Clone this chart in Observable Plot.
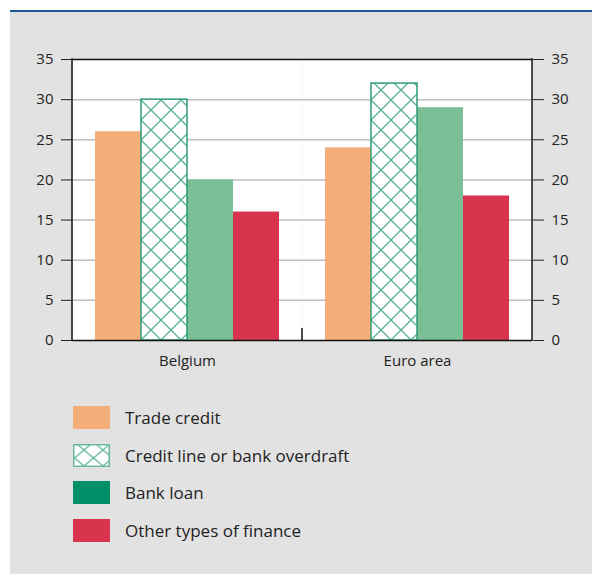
<!DOCTYPE html>
<html><head><meta charset="utf-8">
<script src="https://cdn.jsdelivr.net/npm/d3@7"></script>
<script src="https://cdn.jsdelivr.net/npm/@observablehq/plot@0.6"></script>
<style>
body{margin:0;background:#fff;font-family:"Open Sans",sans-serif;}
#wrap{position:relative;width:592px;height:574px;overflow:hidden;}
#rule{position:absolute;left:10px;top:10px;width:582px;height:2px;background:#1c5a99;}
#panel{position:absolute;left:10px;top:12px;width:582px;height:562px;background:#e2e2e2;}
#chart{position:absolute;left:0;top:0;}
#legend{position:absolute;left:73px;top:406px;}
.item{display:flex;align-items:center;height:23px;margin-bottom:14.7px;}
.item svg{display:block;flex:none;}
.item span{margin-left:15px;font-size:17px;color:#222;white-space:nowrap;}
</style>
</head><body>
<div id="wrap"><div id="panel"></div><div id="rule"></div><div id="chart"></div><div id="legend"></div></div>
<script>
const countries = ["Belgium", "Euro area"];
const types = ["Trade credit", "Credit line or bank overdraft", "Bank loan", "Other types of finance"];
const belgiumValues = [26, 30, 20, 16];
const euroAreaValues = [24, 32, 29, 18];
const yTicks = [0, 5, 10, 15, 20, 25, 30, 35];
const barColors = ["#f5ad7a", "#ffffff", "#7bbf97", "#d8344d"];
const legendColors = ["#f5ad7a", "url(#lhatch)", "#008f68", "#d8344d"];
const hatchType = types[1];
const hatchColor = "#2e9c78";

const data = [];
[belgiumValues, euroAreaValues].forEach((vals, i) => vals.forEach((v, j) => data.push({country: countries[i], type: types[j], value: v})));

const chart = Plot.plot({
  width: 592, height: 380,
  marginLeft: 72, marginRight: 60, marginTop: 59, marginBottom: 40,
  style: {fontFamily: "Open Sans", fontSize: "15px", color: "#222", background: "transparent"},
  facet: {data, x: "country"},
  fx: {domain: countries, padding: 0, label: null, tickSize: 0, tickPadding: 15},
  x: {domain: types, paddingInner: 0, paddingOuter: 0.5, axis: null},
  y: {domain: [0, 35], ticks: yTicks, axis: "both", tickSize: 11, tickPadding: 8, label: null},
  color: {domain: types, range: barColors},
  marks: [
    Plot.frame({fill: "white", stroke: null}),
    Plot.ruleY(yTicks.slice(1, -1), {stroke: "#bdbdbd", strokeWidth: 1.5}),
    Plot.barY(data, {filter: d => d.type !== hatchType, x: "type", y: "value", fill: "type"}),
    Plot.barY(data, {filter: d => d.type === hatchType, x: "type", y: "value", fill: "url(#hatch)", stroke: hatchColor, strokeWidth: 1.5}),
    Plot.ruleY([yTicks[0], yTicks[yTicks.length - 1]], {stroke: "#111", strokeWidth: 1.5})
  ]
});
document.getElementById("chart").appendChild(chart);

const svg = d3.select(chart.tagName.toLowerCase() === "svg" ? chart : chart.querySelector("svg"));

// hatch pattern aligned to the hatched bar's left edge and baseline
const hr = svg.select('g[fill="url(#hatch)"] rect');
let px = 0, py = 0;
if (!hr.empty()) { px = +hr.attr("x"); py = +hr.attr("y") + +hr.attr("height"); }
const defs = svg.insert("defs", ":first-child");
const pat = defs.append("pattern").attr("id", "hatch").attr("patternUnits", "userSpaceOnUse")
  .attr("x", px).attr("y", py).attr("width", 20).attr("height", 20);
pat.append("rect").attr("width", 20).attr("height", 20).attr("fill", "white");
pat.append("path").attr("d", "M0,0L20,20M20,0L0,20").attr("stroke", hatchColor).attr("stroke-width", 1.3).attr("stroke-opacity", 0.8);

// frame sides and the separator tick between the two groups, from the library's scales
const fxS = chart.scale("fx"), yS = chart.scale("y");
const band = d3.scaleBand(fxS.domain, fxS.range).paddingInner(fxS.paddingInner ?? 0).paddingOuter(fxS.paddingOuter ?? 0).align(fxS.align ?? 0.5);
const yScale = d3.scaleLinear(yS.domain, yS.range);
const y0 = yScale(yTicks[0]), y1 = yScale(yTicks[yTicks.length - 1]);
const leftX = band(countries[0]), rightX = band(countries[1]) + band.bandwidth(), sepX = band(countries[1]);
const lines = svg.append("g").attr("stroke", "#111").attr("stroke-width", 1.5);
lines.append("line").attr("x1", leftX).attr("x2", leftX).attr("y1", y0 + 0.75).attr("y2", y1 - 0.75);
lines.append("line").attr("x1", rightX).attr("x2", rightX).attr("y1", y0 + 0.75).attr("y2", y1 - 0.75);
lines.append("line").attr("x1", sepX).attr("x2", sepX).attr("y1", y0).attr("y2", y0 - 12);

// legend
const legend = d3.select("#legend");
types.forEach((t, i) => {
  const item = legend.append("div").attr("class", "item");
  const s = item.append("svg").attr("width", 37).attr("height", 23);
  if (i === 1) {
    const p = s.append("defs").append("pattern").attr("id", "lhatch").attr("patternUnits", "userSpaceOnUse")
      .attr("x", 1.5).attr("y", -2).attr("width", 19).attr("height", 16);
    p.append("rect").attr("width", 19).attr("height", 16).attr("fill", "white");
    p.append("path").attr("d", "M0,0L19,16M19,0L0,16").attr("stroke", hatchColor).attr("stroke-width", 1.3).attr("stroke-opacity", 0.8);
    s.append("rect").attr("x", 0.75).attr("y", 0.75).attr("width", 35.5).attr("height", 21.5).attr("fill", legendColors[i]).attr("stroke", "#6cb89c").attr("stroke-width", 1.5);
  } else {
    s.append("rect").attr("width", 37).attr("height", 23).attr("fill", legendColors[i]);
  }
  item.append("span").text(t);
});
</script>
</body></html>
